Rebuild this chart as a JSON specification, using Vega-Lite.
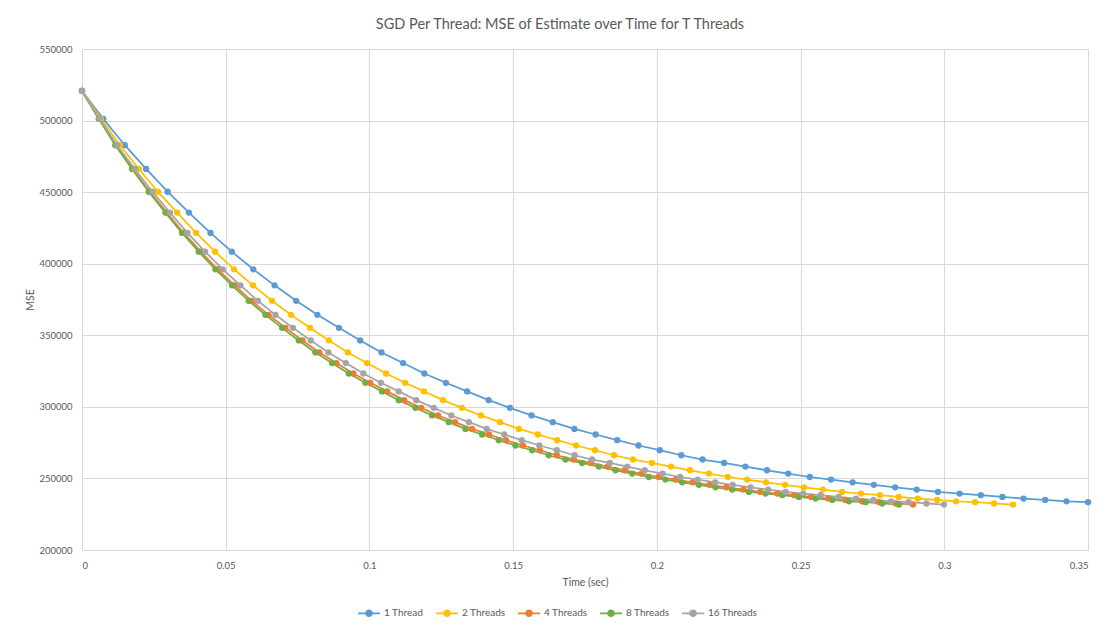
{
  "$schema": "https://vega.github.io/schema/vega-lite/v6.json",
  "width": 1006,
  "height": 501,
  "autosize": {"type": "none"},
  "padding": {"left": 82, "top": 49, "right": 11, "bottom": 76},
  "background": "white",
  "title": {"text": "SGD Per Thread: MSE of Estimate over Time for T Threads", "anchor": "middle", "frame": "group", "dx": -25, "offset": 12, "font": "Lato", "fontSize": 14.5, "fontWeight": "normal", "color": "#595959"},
  "config": {
    "view": {"stroke": null},
    "axis": {"gridColor": "#D9D9D9", "gridWidth": 1, "ticks": false, "domain": false, "labelFont": "Lato", "labelFontSize": 9.5, "labelColor": "#595959", "titleFont": "Lato", "titleFontSize": 10.5, "titleFontWeight": "normal", "titleColor": "#595959"}
  },
  "datasets": {
    "rows": [
      {"series": "1 Thread", "time": 0, "mse": 520700},
      {"series": "1 Thread", "time": 0.0074, "mse": 501200},
      {"series": "1 Thread", "time": 0.0149, "mse": 482800},
      {"series": "1 Thread", "time": 0.0223, "mse": 466200},
      {"series": "1 Thread", "time": 0.0298, "mse": 450300},
      {"series": "1 Thread", "time": 0.0372, "mse": 435700},
      {"series": "1 Thread", "time": 0.0447, "mse": 421500},
      {"series": "1 Thread", "time": 0.0521, "mse": 408400},
      {"series": "1 Thread", "time": 0.0596, "mse": 396100},
      {"series": "1 Thread", "time": 0.0670, "mse": 384900},
      {"series": "1 Thread", "time": 0.0745, "mse": 374100},
      {"series": "1 Thread", "time": 0.0819, "mse": 364300},
      {"series": "1 Thread", "time": 0.0894, "mse": 355200},
      {"series": "1 Thread", "time": 0.0968, "mse": 346400},
      {"series": "1 Thread", "time": 0.1042, "mse": 338000},
      {"series": "1 Thread", "time": 0.1117, "mse": 330600},
      {"series": "1 Thread", "time": 0.1191, "mse": 323300},
      {"series": "1 Thread", "time": 0.1266, "mse": 316800},
      {"series": "1 Thread", "time": 0.1340, "mse": 310800},
      {"series": "1 Thread", "time": 0.1415, "mse": 304700},
      {"series": "1 Thread", "time": 0.1489, "mse": 299300},
      {"series": "1 Thread", "time": 0.1564, "mse": 294000},
      {"series": "1 Thread", "time": 0.1638, "mse": 289300},
      {"series": "1 Thread", "time": 0.1713, "mse": 284600},
      {"series": "1 Thread", "time": 0.1787, "mse": 280700},
      {"series": "1 Thread", "time": 0.1862, "mse": 276700},
      {"series": "1 Thread", "time": 0.1936, "mse": 273000},
      {"series": "1 Thread", "time": 0.2010, "mse": 269700},
      {"series": "1 Thread", "time": 0.2085, "mse": 266200},
      {"series": "1 Thread", "time": 0.2159, "mse": 263200},
      {"series": "1 Thread", "time": 0.2234, "mse": 260800},
      {"series": "1 Thread", "time": 0.2308, "mse": 258300},
      {"series": "1 Thread", "time": 0.2383, "mse": 255700},
      {"series": "1 Thread", "time": 0.2457, "mse": 253400},
      {"series": "1 Thread", "time": 0.2532, "mse": 251000},
      {"series": "1 Thread", "time": 0.2606, "mse": 249200},
      {"series": "1 Thread", "time": 0.2681, "mse": 247300},
      {"series": "1 Thread", "time": 0.2755, "mse": 245500},
      {"series": "1 Thread", "time": 0.2829, "mse": 243800},
      {"series": "1 Thread", "time": 0.2904, "mse": 242200},
      {"series": "1 Thread", "time": 0.2978, "mse": 240600},
      {"series": "1 Thread", "time": 0.3053, "mse": 239400},
      {"series": "1 Thread", "time": 0.3127, "mse": 238300},
      {"series": "1 Thread", "time": 0.3202, "mse": 237100},
      {"series": "1 Thread", "time": 0.3276, "mse": 235900},
      {"series": "1 Thread", "time": 0.3351, "mse": 235000},
      {"series": "1 Thread", "time": 0.3425, "mse": 234000},
      {"series": "1 Thread", "time": 0.3500, "mse": 233400},
      {"series": "2 Threads", "time": 0, "mse": 520700},
      {"series": "2 Threads", "time": 0.0066, "mse": 501200},
      {"series": "2 Threads", "time": 0.0132, "mse": 482800},
      {"series": "2 Threads", "time": 0.0198, "mse": 466200},
      {"series": "2 Threads", "time": 0.0264, "mse": 450300},
      {"series": "2 Threads", "time": 0.0331, "mse": 435700},
      {"series": "2 Threads", "time": 0.0397, "mse": 421500},
      {"series": "2 Threads", "time": 0.0463, "mse": 408400},
      {"series": "2 Threads", "time": 0.0529, "mse": 396100},
      {"series": "2 Threads", "time": 0.0595, "mse": 384900},
      {"series": "2 Threads", "time": 0.0661, "mse": 374100},
      {"series": "2 Threads", "time": 0.0727, "mse": 364300},
      {"series": "2 Threads", "time": 0.0793, "mse": 355200},
      {"series": "2 Threads", "time": 0.0859, "mse": 346400},
      {"series": "2 Threads", "time": 0.0925, "mse": 338000},
      {"series": "2 Threads", "time": 0.0992, "mse": 330600},
      {"series": "2 Threads", "time": 0.1058, "mse": 323300},
      {"series": "2 Threads", "time": 0.1124, "mse": 316800},
      {"series": "2 Threads", "time": 0.1190, "mse": 310800},
      {"series": "2 Threads", "time": 0.1256, "mse": 304700},
      {"series": "2 Threads", "time": 0.1322, "mse": 299300},
      {"series": "2 Threads", "time": 0.1388, "mse": 294000},
      {"series": "2 Threads", "time": 0.1454, "mse": 289300},
      {"series": "2 Threads", "time": 0.1520, "mse": 284600},
      {"series": "2 Threads", "time": 0.1586, "mse": 280700},
      {"series": "2 Threads", "time": 0.1653, "mse": 276700},
      {"series": "2 Threads", "time": 0.1719, "mse": 273000},
      {"series": "2 Threads", "time": 0.1785, "mse": 269700},
      {"series": "2 Threads", "time": 0.1851, "mse": 266200},
      {"series": "2 Threads", "time": 0.1917, "mse": 263200},
      {"series": "2 Threads", "time": 0.1983, "mse": 260800},
      {"series": "2 Threads", "time": 0.2049, "mse": 258300},
      {"series": "2 Threads", "time": 0.2115, "mse": 255700},
      {"series": "2 Threads", "time": 0.2181, "mse": 253400},
      {"series": "2 Threads", "time": 0.2247, "mse": 251000},
      {"series": "2 Threads", "time": 0.2314, "mse": 249200},
      {"series": "2 Threads", "time": 0.2380, "mse": 247300},
      {"series": "2 Threads", "time": 0.2446, "mse": 245500},
      {"series": "2 Threads", "time": 0.2512, "mse": 243800},
      {"series": "2 Threads", "time": 0.2578, "mse": 242200},
      {"series": "2 Threads", "time": 0.2644, "mse": 240600},
      {"series": "2 Threads", "time": 0.2710, "mse": 239400},
      {"series": "2 Threads", "time": 0.2776, "mse": 238300},
      {"series": "2 Threads", "time": 0.2842, "mse": 237100},
      {"series": "2 Threads", "time": 0.2908, "mse": 235900},
      {"series": "2 Threads", "time": 0.2975, "mse": 235000},
      {"series": "2 Threads", "time": 0.3041, "mse": 234000},
      {"series": "2 Threads", "time": 0.3107, "mse": 233400},
      {"series": "2 Threads", "time": 0.3173, "mse": 232500},
      {"series": "2 Threads", "time": 0.3239, "mse": 231700},
      {"series": "4 Threads", "time": 0, "mse": 520700},
      {"series": "4 Threads", "time": 0.0059, "mse": 501200},
      {"series": "4 Threads", "time": 0.0118, "mse": 482800},
      {"series": "4 Threads", "time": 0.0177, "mse": 466200},
      {"series": "4 Threads", "time": 0.0236, "mse": 450300},
      {"series": "4 Threads", "time": 0.0295, "mse": 435700},
      {"series": "4 Threads", "time": 0.0354, "mse": 421500},
      {"series": "4 Threads", "time": 0.0413, "mse": 408400},
      {"series": "4 Threads", "time": 0.0472, "mse": 396100},
      {"series": "4 Threads", "time": 0.0531, "mse": 384900},
      {"series": "4 Threads", "time": 0.0590, "mse": 374100},
      {"series": "4 Threads", "time": 0.0649, "mse": 364300},
      {"series": "4 Threads", "time": 0.0708, "mse": 355200},
      {"series": "4 Threads", "time": 0.0767, "mse": 346400},
      {"series": "4 Threads", "time": 0.0826, "mse": 338000},
      {"series": "4 Threads", "time": 0.0885, "mse": 330600},
      {"series": "4 Threads", "time": 0.0944, "mse": 323300},
      {"series": "4 Threads", "time": 0.1003, "mse": 316800},
      {"series": "4 Threads", "time": 0.1062, "mse": 310800},
      {"series": "4 Threads", "time": 0.1121, "mse": 304700},
      {"series": "4 Threads", "time": 0.1180, "mse": 299300},
      {"series": "4 Threads", "time": 0.1239, "mse": 294000},
      {"series": "4 Threads", "time": 0.1298, "mse": 289300},
      {"series": "4 Threads", "time": 0.1357, "mse": 284600},
      {"series": "4 Threads", "time": 0.1416, "mse": 280700},
      {"series": "4 Threads", "time": 0.1475, "mse": 276700},
      {"series": "4 Threads", "time": 0.1534, "mse": 273000},
      {"series": "4 Threads", "time": 0.1593, "mse": 269700},
      {"series": "4 Threads", "time": 0.1652, "mse": 266200},
      {"series": "4 Threads", "time": 0.1711, "mse": 263200},
      {"series": "4 Threads", "time": 0.1770, "mse": 260800},
      {"series": "4 Threads", "time": 0.1829, "mse": 258300},
      {"series": "4 Threads", "time": 0.1888, "mse": 255700},
      {"series": "4 Threads", "time": 0.1947, "mse": 253400},
      {"series": "4 Threads", "time": 0.2006, "mse": 251000},
      {"series": "4 Threads", "time": 0.2065, "mse": 249200},
      {"series": "4 Threads", "time": 0.2124, "mse": 247300},
      {"series": "4 Threads", "time": 0.2183, "mse": 245500},
      {"series": "4 Threads", "time": 0.2242, "mse": 243800},
      {"series": "4 Threads", "time": 0.2301, "mse": 242200},
      {"series": "4 Threads", "time": 0.2360, "mse": 240600},
      {"series": "4 Threads", "time": 0.2419, "mse": 239400},
      {"series": "4 Threads", "time": 0.2478, "mse": 238300},
      {"series": "4 Threads", "time": 0.2537, "mse": 237100},
      {"series": "4 Threads", "time": 0.2596, "mse": 235900},
      {"series": "4 Threads", "time": 0.2655, "mse": 235000},
      {"series": "4 Threads", "time": 0.2714, "mse": 234000},
      {"series": "4 Threads", "time": 0.2773, "mse": 233400},
      {"series": "4 Threads", "time": 0.2832, "mse": 232500},
      {"series": "4 Threads", "time": 0.2891, "mse": 231700},
      {"series": "8 Threads", "time": 0, "mse": 520700},
      {"series": "8 Threads", "time": 0.0058, "mse": 501200},
      {"series": "8 Threads", "time": 0.0116, "mse": 482800},
      {"series": "8 Threads", "time": 0.0174, "mse": 466200},
      {"series": "8 Threads", "time": 0.0232, "mse": 450300},
      {"series": "8 Threads", "time": 0.0290, "mse": 435700},
      {"series": "8 Threads", "time": 0.0348, "mse": 421500},
      {"series": "8 Threads", "time": 0.0406, "mse": 408400},
      {"series": "8 Threads", "time": 0.0464, "mse": 396100},
      {"series": "8 Threads", "time": 0.0522, "mse": 384900},
      {"series": "8 Threads", "time": 0.0580, "mse": 374100},
      {"series": "8 Threads", "time": 0.0638, "mse": 364300},
      {"series": "8 Threads", "time": 0.0696, "mse": 355200},
      {"series": "8 Threads", "time": 0.0754, "mse": 346400},
      {"series": "8 Threads", "time": 0.0812, "mse": 338000},
      {"series": "8 Threads", "time": 0.0870, "mse": 330600},
      {"series": "8 Threads", "time": 0.0928, "mse": 323300},
      {"series": "8 Threads", "time": 0.0986, "mse": 316800},
      {"series": "8 Threads", "time": 0.1044, "mse": 310800},
      {"series": "8 Threads", "time": 0.1102, "mse": 304700},
      {"series": "8 Threads", "time": 0.1160, "mse": 299300},
      {"series": "8 Threads", "time": 0.1218, "mse": 294000},
      {"series": "8 Threads", "time": 0.1276, "mse": 289300},
      {"series": "8 Threads", "time": 0.1334, "mse": 284600},
      {"series": "8 Threads", "time": 0.1392, "mse": 280700},
      {"series": "8 Threads", "time": 0.1450, "mse": 276700},
      {"series": "8 Threads", "time": 0.1508, "mse": 273000},
      {"series": "8 Threads", "time": 0.1566, "mse": 269700},
      {"series": "8 Threads", "time": 0.1624, "mse": 266200},
      {"series": "8 Threads", "time": 0.1682, "mse": 263200},
      {"series": "8 Threads", "time": 0.1740, "mse": 260800},
      {"series": "8 Threads", "time": 0.1798, "mse": 258300},
      {"series": "8 Threads", "time": 0.1856, "mse": 255700},
      {"series": "8 Threads", "time": 0.1914, "mse": 253400},
      {"series": "8 Threads", "time": 0.1972, "mse": 251000},
      {"series": "8 Threads", "time": 0.2030, "mse": 249200},
      {"series": "8 Threads", "time": 0.2088, "mse": 247300},
      {"series": "8 Threads", "time": 0.2146, "mse": 245500},
      {"series": "8 Threads", "time": 0.2204, "mse": 243800},
      {"series": "8 Threads", "time": 0.2262, "mse": 242200},
      {"series": "8 Threads", "time": 0.2320, "mse": 240600},
      {"series": "8 Threads", "time": 0.2378, "mse": 239400},
      {"series": "8 Threads", "time": 0.2436, "mse": 238300},
      {"series": "8 Threads", "time": 0.2494, "mse": 237100},
      {"series": "8 Threads", "time": 0.2552, "mse": 235900},
      {"series": "8 Threads", "time": 0.2610, "mse": 235000},
      {"series": "8 Threads", "time": 0.2668, "mse": 234000},
      {"series": "8 Threads", "time": 0.2726, "mse": 233400},
      {"series": "8 Threads", "time": 0.2784, "mse": 232500},
      {"series": "8 Threads", "time": 0.2842, "mse": 231700},
      {"series": "16 Threads", "time": 0, "mse": 520700},
      {"series": "16 Threads", "time": 0.0061, "mse": 501200},
      {"series": "16 Threads", "time": 0.0122, "mse": 482800},
      {"series": "16 Threads", "time": 0.0184, "mse": 466200},
      {"series": "16 Threads", "time": 0.0245, "mse": 450300},
      {"series": "16 Threads", "time": 0.0306, "mse": 435700},
      {"series": "16 Threads", "time": 0.0367, "mse": 421500},
      {"series": "16 Threads", "time": 0.0428, "mse": 408400},
      {"series": "16 Threads", "time": 0.0490, "mse": 396100},
      {"series": "16 Threads", "time": 0.0551, "mse": 384900},
      {"series": "16 Threads", "time": 0.0612, "mse": 374100},
      {"series": "16 Threads", "time": 0.0673, "mse": 364300},
      {"series": "16 Threads", "time": 0.0734, "mse": 355200},
      {"series": "16 Threads", "time": 0.0796, "mse": 346400},
      {"series": "16 Threads", "time": 0.0857, "mse": 338000},
      {"series": "16 Threads", "time": 0.0918, "mse": 330600},
      {"series": "16 Threads", "time": 0.0979, "mse": 323300},
      {"series": "16 Threads", "time": 0.1040, "mse": 316800},
      {"series": "16 Threads", "time": 0.1102, "mse": 310800},
      {"series": "16 Threads", "time": 0.1163, "mse": 304700},
      {"series": "16 Threads", "time": 0.1224, "mse": 299300},
      {"series": "16 Threads", "time": 0.1285, "mse": 294000},
      {"series": "16 Threads", "time": 0.1346, "mse": 289300},
      {"series": "16 Threads", "time": 0.1408, "mse": 284600},
      {"series": "16 Threads", "time": 0.1469, "mse": 280700},
      {"series": "16 Threads", "time": 0.1530, "mse": 276700},
      {"series": "16 Threads", "time": 0.1591, "mse": 273000},
      {"series": "16 Threads", "time": 0.1652, "mse": 269700},
      {"series": "16 Threads", "time": 0.1714, "mse": 266200},
      {"series": "16 Threads", "time": 0.1775, "mse": 263200},
      {"series": "16 Threads", "time": 0.1836, "mse": 260800},
      {"series": "16 Threads", "time": 0.1897, "mse": 258300},
      {"series": "16 Threads", "time": 0.1958, "mse": 255700},
      {"series": "16 Threads", "time": 0.2020, "mse": 253400},
      {"series": "16 Threads", "time": 0.2081, "mse": 251000},
      {"series": "16 Threads", "time": 0.2142, "mse": 249200},
      {"series": "16 Threads", "time": 0.2203, "mse": 247300},
      {"series": "16 Threads", "time": 0.2264, "mse": 245500},
      {"series": "16 Threads", "time": 0.2326, "mse": 243800},
      {"series": "16 Threads", "time": 0.2387, "mse": 242200},
      {"series": "16 Threads", "time": 0.2448, "mse": 240600},
      {"series": "16 Threads", "time": 0.2509, "mse": 239400},
      {"series": "16 Threads", "time": 0.2570, "mse": 238300},
      {"series": "16 Threads", "time": 0.2632, "mse": 237100},
      {"series": "16 Threads", "time": 0.2693, "mse": 235900},
      {"series": "16 Threads", "time": 0.2754, "mse": 235000},
      {"series": "16 Threads", "time": 0.2815, "mse": 234000},
      {"series": "16 Threads", "time": 0.2876, "mse": 233400},
      {"series": "16 Threads", "time": 0.2938, "mse": 232500},
      {"series": "16 Threads", "time": 0.2999, "mse": 231700}
    ]
  },
  "data": {"name": "rows"},
  "mark": {"type": "line", "strokeWidth": 1.75, "point": {"filled": true, "size": 40, "opacity": 1}},
  "encoding": {
    "x": {
      "field": "time", "type": "quantitative",
      "scale": {"domain": [0, 0.35], "nice": false, "zero": false},
      "axis": {"values": [0, 0.05, 0.1, 0.15, 0.2, 0.25, 0.3, 0.35], "format": "~g", "grid": true, "domain": true, "domainColor": "#D9D9D9", "labelPadding": 10, "title": "Time (sec)", "titleY": 35.5, "titleBaseline": "alphabetic"}
    },
    "y": {
      "field": "mse", "type": "quantitative",
      "scale": {"domain": [200000, 550000], "nice": false, "zero": false},
      "axis": {"values": [200000, 250000, 300000, 350000, 400000, 450000, 500000, 550000], "format": "d", "grid": true, "labelPadding": 10, "title": "MSE", "titleX": -52, "titleY": 250.5, "titleAngle": -90, "titleAlign": "center", "titleBaseline": "middle"}
    },
    "color": {
      "field": "series", "type": "nominal",
      "scale": {"domain": ["1 Thread", "2 Threads", "4 Threads", "8 Threads", "16 Threads"], "range": ["#5B9BD5", "#FFC000", "#ED7D31", "#70AD47", "#A5A5A5"]},
      "legend": {
        "title": null, "orient": "none", "direction": "horizontal", "legendX": 275, "legendY": 552,
        "symbolType": "M-1,0L1,0M-0.27,0A0.27,0.27 0 1,0 0.27,0A0.27,0.27 0 1,0 -0.27,0Z",
        "symbolSize": 484, "symbolStrokeWidth": 1.75, "symbolOpacity": 1,
        "labelFont": "Lato", "labelFontSize": 10, "labelColor": "#595959", "labelOffset": 3, "columnPadding": 8,
        "encode": {"symbols": {"update": {"fill": {"scale": "color", "field": "value"}, "stroke": {"scale": "color", "field": "value"}}}}
      }
    }
  }
}
